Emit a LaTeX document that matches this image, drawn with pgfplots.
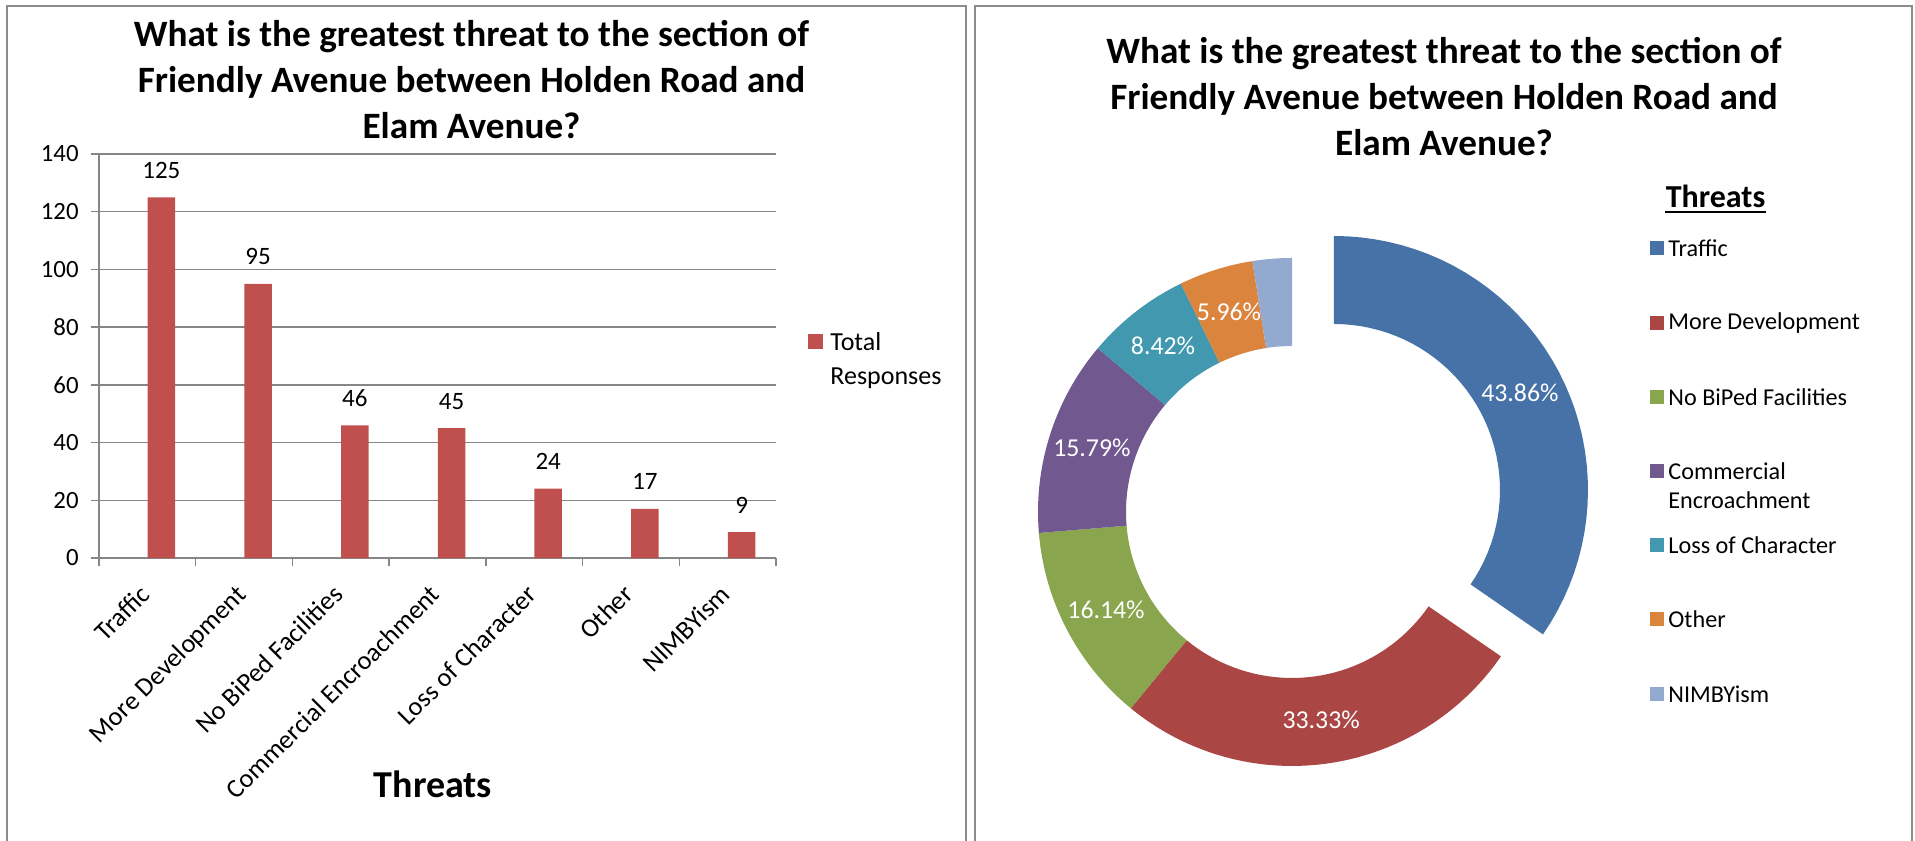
\documentclass[border=0pt]{standalone}
\usepackage{fontspec}
\setmainfont{Carlito}
\usepackage{pgfplots}
\pgfplotsset{compat=1.18}
\usepackage{pgfplotstable}

\definecolor{barred}{HTML}{C0504D}
\definecolor{gridgray}{HTML}{868686}
\definecolor{framegray}{HTML}{8C8C8C}
\definecolor{dcA}{HTML}{4672A8}
\definecolor{dcB}{HTML}{AA4644}
\definecolor{dcC}{HTML}{89A54E}
\definecolor{dcD}{HTML}{71588F}
\definecolor{dcE}{HTML}{4198AF}
\definecolor{dcF}{HTML}{DB843D}
\definecolor{dcG}{HTML}{93A9CF}

\pgfplotstableread{
x y
0 125
1 95
2 46
3 45
4 24
5 17
6 9
}\bardata

% donut: counts / segment name
\def\donutdata{125/A,95/B,46/C,45/D,24/E,17/F,9/G}
\def\Rout{254}\def\Rin{166}\def\nseg{40}
\newcommand\mkseg[5]{%
  \gdef#1{}%
  \foreach \k in {0,...,\nseg}{%
    \pgfmathsetmacro\th{#2+(#3-#2)*\k/\nseg}%
    \pgfmathsetmacro\px{#4+\Rout*cos(\th)}%
    \pgfmathsetmacro\py{#5+\Rout*sin(\th)}%
    \xdef#1{#1(\px,\py)}%
  }%
  \foreach \k in {0,...,\nseg}{%
    \pgfmathsetmacro\th{#3-(#3-#2)*\k/\nseg}%
    \pgfmathsetmacro\px{#4+\Rin*cos(\th)}%
    \pgfmathsetmacro\py{#5+\Rin*sin(\th)}%
    \xdef#1{#1(\px,\py)}%
  }%
}
\gdef\dcum{0}
\foreach \dc/\dn in \donutdata {\pgfmathsetmacro\dT{\dcum+\dc}\xdef\dcum{\dT}}
\xdef\dtotal{\dcum}
\gdef\dcum{0}
\foreach \dc/\dn [count=\di] in \donutdata {%
  \pgfmathsetmacro\dA{90-(\dcum/\dtotal)*360}%
  \pgfmathsetmacro\dT{\dcum+\dc}\xdef\dcum{\dT}%
  \pgfmathsetmacro\dB{90-(\dcum/\dtotal)*360}%
  \pgfmathsetmacro\dM{(\dA+\dB)/2}%
  \ifnum\di=1 \pgfmathsetmacro\ddx{47.4*cos(\dM)}\pgfmathsetmacro\ddy{47.4*sin(\dM)}\else\def\ddx{0}\def\ddy{0}\fi
  \expandafter\mkseg\csname dseg\dn\endcsname{\dA}{\dB}{\ddx}{\ddy}%
  \pgfmathsetmacro\lx{\ddx+210*cos(\dM)}\pgfmathsetmacro\ly{\ddy+210*sin(\dM)}%
  \expandafter\xdef\csname dlx\dn\endcsname{\lx}%
  \expandafter\xdef\csname dly\dn\endcsname{\ly}%
}

\begin{document}
\begin{tikzpicture}
\useasboundingbox (0,0) rectangle (957.5pt,420pt);
\fill[white] (0,0) rectangle (957.5pt,420pt);
% panel frames
\draw[framegray, line width=0.8pt] (3.5pt,-5pt) -- (3.5pt,417pt) -- (483pt,417pt) -- (483pt,-5pt);
\draw[framegray, line width=0.8pt] (487.5pt,-5pt) -- (487.5pt,417pt) -- (956pt,417pt) -- (956pt,-5pt);

% titles
\node[align=center, font=\bfseries\fontsize{18.6}{23}\selectfont] at (235.75pt,380pt)
  {What is the greatest threat to the section of\\Friendly Avenue between Holden Road and\\Elam Avenue?};
\node[align=center, font=\bfseries\fontsize{18.6}{23}\selectfont] at (722pt,371.6pt)
  {What is the greatest threat to the section of\\Friendly Avenue between Holden Road and\\Elam Avenue?};

\begin{axis}[
  at={(49.5pt,141pt)}, anchor=south west,
  scale only axis, width=338.5pt, height=202pt,
  xmin=-0.5, xmax=6.5, ymin=0, ymax=140, enlargelimits=false, clip=false,
  ytick={0,20,...,140},
  xtick={0,...,6},
  xticklabels={Traffic, More Development, No BiPed Facilities, Commercial Encroachment, Loss of Character, Other, NIMBYism},
  minor xtick={-0.5,0.5,...,6.5},
  axis x line*=bottom, axis y line*=left,
  axis line style={gridgray, line width=0.65pt},
  ymajorgrids, major grid style={gridgray, line width=0.65pt},
  tick align=outside,
  major tick length=4pt, minor tick length=4pt,
  major x tick style={draw=none},
  minor x tick style={gridgray, line width=0.65pt},
  ytick style={gridgray, line width=0.65pt},
  tick label style={font=\fontsize{12.4}{14}\selectfont, black},
  /pgf/number format/assume math mode=true,
  xticklabel style={font=\fontsize{13.2}{15}\selectfont, anchor=base east, inner sep=0pt, xshift=2pt, yshift=-15pt, rotate=45},
  yticklabel style={anchor=east, inner sep=0pt, xshift=-6pt},
  ybar, bar width=13.75pt, bar shift=7pt,
  nodes near coords,
  every node near coord/.append style={font=\fontsize{12.5}{14}\selectfont, black, anchor=base, inner sep=0pt, yshift=9.5pt},
]
\addplot[fill=barred, draw=none] table[x=x,y=y] {\bardata};
\end{axis}

\node[font=\bfseries\fontsize{19}{22}\selectfont] at (216.5pt,28pt) {Threats};

% left legend
\fill[barred] (404pt,245.5pt) rectangle (411.5pt,253pt);
\node[anchor=west, inner sep=0pt, font=\fontsize{13}{15}\selectfont] at (415pt,249.15pt) {Total};
\node[anchor=west, inner sep=0pt, font=\fontsize{13}{15}\selectfont] at (415pt,231pt) {Responses};

% donut
\begin{axis}[
  at={(496pt,14pt)}, anchor=south west,
  scale only axis, width=300pt, height=300pt,
  xmin=-300, xmax=300, ymin=-300, ymax=300,
  hide axis, clip=false,
]
\edef\tmp{\noexpand\addplot[fill=dcA, draw=none] coordinates {\dsegA};}\tmp
\edef\tmp{\noexpand\addplot[fill=dcB, draw=none] coordinates {\dsegB};}\tmp
\edef\tmp{\noexpand\addplot[fill=dcC, draw=none] coordinates {\dsegC};}\tmp
\edef\tmp{\noexpand\addplot[fill=dcD, draw=none] coordinates {\dsegD};}\tmp
\edef\tmp{\noexpand\addplot[fill=dcE, draw=none] coordinates {\dsegE};}\tmp
\edef\tmp{\noexpand\addplot[fill=dcF, draw=none] coordinates {\dsegF};}\tmp
\edef\tmp{\noexpand\addplot[fill=dcG, draw=none] coordinates {\dsegG};}\tmp
\tikzset{dlab/.style={white, font=\fontsize{12.9}{14}\selectfont}}
\node[dlab] at (axis cs:\dlxA,\dlyA) {43.86\%};
\node[dlab] at (axis cs:\dlxB,\dlyB) {33.33\%};
\node[dlab] at (axis cs:\dlxC,\dlyC) {16.14\%};
\node[dlab] at (axis cs:\dlxD,\dlyD) {15.79\%};
\node[dlab] at (axis cs:\dlxE,\dlyE) {8.42\%};
\node[dlab] at (axis cs:\dlxF,\dlyF) {5.96\%};
\end{axis}

% right legend
\node[anchor=base, inner sep=0pt, font=\bfseries\fontsize{16}{18}\selectfont] at (857.75pt,316pt) {Threats};
\draw[black, line width=1.2pt] (832.5pt,314pt) -- (883pt,314pt);
\foreach \yy/\cc/\tt in {296/dcA/Traffic, 258.5/dcB/More Development, 221.5/dcC/No BiPed Facilities, 184.5/dcD/Commercial, 147.5/dcE/Loss of Character, 110.5/dcF/Other, 73/dcG/NIMBYism}{
  \fill[\cc] (825pt,\yy pt-3.5pt) rectangle (832pt,\yy pt+3.5pt);
  \node[anchor=west, inner sep=0pt, font=\fontsize{12.1}{14}\selectfont] at (834pt,\yy pt) {\tt};
}
\node[anchor=west, inner sep=0pt, font=\fontsize{12.1}{14}\selectfont] at (834pt,170pt) {Encroachment};
\end{tikzpicture}
\end{document}
